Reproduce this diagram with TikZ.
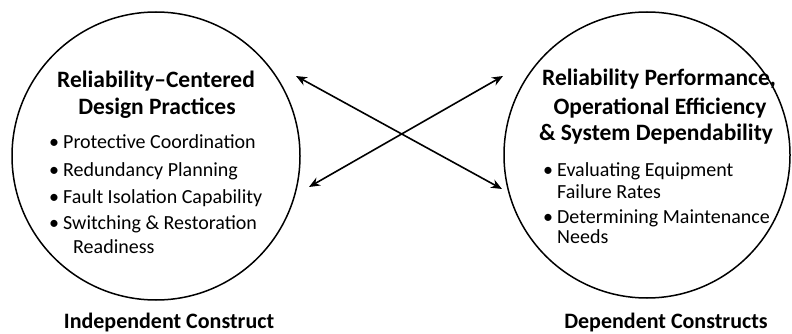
\documentclass[tikz,border=0pt]{standalone}
\usepackage{fontspec}
\setmainfont{Carlito}
\usetikzlibrary{arrows.meta}
\newcommand{\bul}{\makebox[14pt][l]{•}}
\begin{document}
\begin{tikzpicture}[x=1pt,y=-1pt,
  ring/.style={draw, circle, line width=1.5pt, inner sep=0pt},
  title/.style={font=\fontsize{23.5}{26}\selectfont\bfseries, anchor=base, inner sep=0pt},
  item/.style={font=\fontsize{20}{22}\selectfont, anchor=base west, inner sep=0pt},
  caption/.style={font=\fontsize{22}{24}\selectfont\bfseries, anchor=base, inner sep=0pt},
  link/.style={line width=1.6pt, {Stealth[length=11pt,width=9pt]}-{Stealth[length=11pt,width=9pt]}}]
\useasboundingbox (0,0) rectangle (792,334);
% the two constructs
\node[ring, minimum size=288pt] (ind) at (156,156) {};
\node[ring, minimum size=286pt] (dep) at (647,155) {};
% left circle contents
\node[title] (it1) at (156,88) {Reliability–Centered};
\node[title] (it2) at (157,114) {Design Practices};
\node[item] (i1) at (49,149) {\bul Protective Coordination};
\node[item] (i2) at (49,176) {\bul Redundancy Planning};
\node[item] (i3) at (49,203) {\bul Fault Isolation Capability};
\node[item] (i4) at (49,229) {\bul Switching \& Restoration};
\node[item] (i4b) at (73,253) {Readiness};
% right circle contents
\node[title] (dt1) at (659,86) {Reliability Performance,};
\node[title] (dt2) at (660,114) {Operational Efficiency};
\node[title] (dt3) at (656,141) {\& System Dependability};
\node[item] (d1) at (543,176) {\bul Evaluating Equipment};
\node[item] (d1b) at (557,198) {Failure Rates};
\node[item] (d2) at (543,223) {\bul Determining Maintenance};
\node[item] (d2b) at (557,243) {Needs};
% captions
\node[caption] (indcap) at (169,328) {Independent Construct};
\node[caption] (depcap) at (666,328) {Dependent Constructs};
% crossing links
\coordinate (a1) at (296,76);
\coordinate (b1) at (502,189);
\coordinate (a2) at (309,187);
\coordinate (b2) at (503,76);
\draw[link] (a1) -- (b1);
\draw[link] (a2) -- (b2);
\end{tikzpicture}
\end{document}
